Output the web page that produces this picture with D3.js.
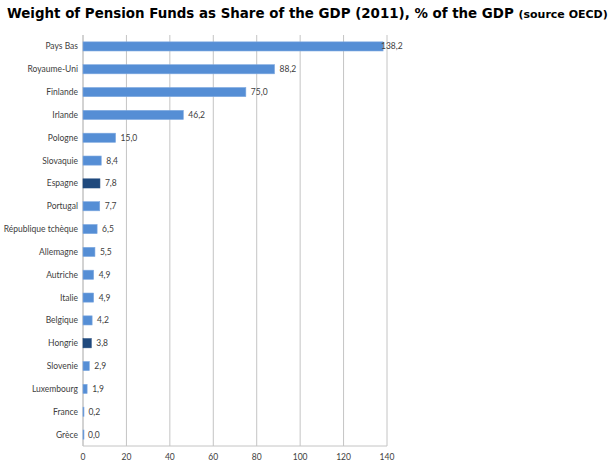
<!DOCTYPE html>
<html>
<head>
<meta charset="utf-8">
<script src="https://cdn.jsdelivr.net/npm/d3@7"></script>
<style>
  body { margin: 0; background: #fff; }
  .lbl { font-family: Lato, "Liberation Sans", sans-serif; }
  .title { font-family: "DejaVu Sans", Verdana, sans-serif; font-weight: bold; }
</style>
</head>
<body>
<script>
const w = 612;
const h = 465;

const countries = ['Pays Bas', 'Royaume-Uni', 'Finlande', 'Irlande', 'Pologne', 'Slovaquie',
  'Espagne', 'Portugal', 'République tchèque', 'Allemagne', 'Autriche', 'Italie',
  'Belgique', 'Hongrie', 'Slovenie', 'Luxembourg', 'France', 'Grèce'];
const values = [138.2, 88.2, 75.0, 46.2, 15.0, 8.4, 7.8, 7.7, 6.5, 5.5, 4.9, 4.9, 4.2, 3.8, 2.9, 1.9, 0.2, 0.0];
const highlighted = ['Espagne', 'Hongrie'];
const xTicks = [0, 20, 40, 60, 80, 100, 120, 140];

const data = countries.map((c, i) => ({ name: c, value: values[i] }));

const svg = d3.select('body').append('svg')
    .attr('width', w)
    .attr('height', h);

const plotLeft = 83, plotRight = 387, plotTop = 35, plotBottom = 446;

const x = d3.scaleLinear().domain([0, 140]).range([plotLeft, plotRight]);
const y = d3.scaleBand().domain(countries).range([plotTop, plotBottom]).paddingInner(0.6).paddingOuter(0.3);

// title
const title = svg.append('text')
    .attr('class', 'title')
    .attr('x', 7)
    .attr('y', 18)
    .attr('fill', '#000');
title.append('tspan').attr('font-size', 13.4).text('Weight of Pension Funds as Share of the GDP (2011), % of the GDP ');
title.append('tspan').attr('font-size', 11).text('(source OECD)');

// gridlines
svg.append('g')
    .selectAll('line')
    .data(xTicks)
    .enter()
    .append('line')
        .attr('x1', d => x(d))
        .attr('x2', d => x(d))
        .attr('y1', plotTop)
        .attr('y2', plotBottom)
        .attr('stroke', d => d === 0 ? '#a6a6a6' : '#c4c4c4')
        .attr('stroke-width', 1);

svg.append('line')
    .attr('x1', plotLeft).attr('x2', plotRight)
    .attr('y1', plotBottom).attr('y2', plotBottom)
    .attr('stroke', '#c4c4c4');

// x axis labels
svg.append('g')
    .selectAll('text')
    .data(xTicks)
    .enter()
    .append('text')
        .attr('class', 'lbl')
        .attr('x', d => x(d))
        .attr('y', 460)
        .attr('text-anchor', 'middle')
        .attr('font-size', 8.5)
        .attr('fill', '#404040')
        .text(d => d);

// bars
svg.append('g')
    .selectAll('rect')
    .data(data)
    .enter()
    .append('rect')
        .attr('x', x(0))
        .attr('y', d => y(d.name))
        .attr('width', d => Math.max(x(d.value) - x(0), 1))
        .attr('height', y.bandwidth())
        .attr('fill', d => highlighted.includes(d.name) ? '#1f497d' : '#558ed5')
        .attr('stroke', d => highlighted.includes(d.name) ? '#1f497d' : '#7fa9e0')
        .attr('stroke-width', 0.6);

// category labels
svg.append('g')
    .selectAll('text')
    .data(data)
    .enter()
    .append('text')
        .attr('class', 'lbl')
        .attr('x', 78)
        .attr('y', d => y(d.name) + y.bandwidth() / 2)
        .attr('dy', '0.35em')
        .attr('text-anchor', 'end')
        .attr('font-size', 8.5)
        .attr('fill', '#404040')
        .text(d => d.name);

// value labels
svg.append('g')
    .selectAll('text')
    .data(data)
    .enter()
    .append('text')
        .attr('class', 'lbl')
        .attr('x', d => Math.min(x(d.value) + 5, plotRight - 6))
        .attr('y', d => y(d.name) + y.bandwidth() / 2)
        .attr('dy', '0.35em')
        .attr('font-size', 8.5)
        .attr('fill', '#404040')
        .text(d => d.value.toFixed(1).replace('.', ','));
</script>
</body>
</html>
